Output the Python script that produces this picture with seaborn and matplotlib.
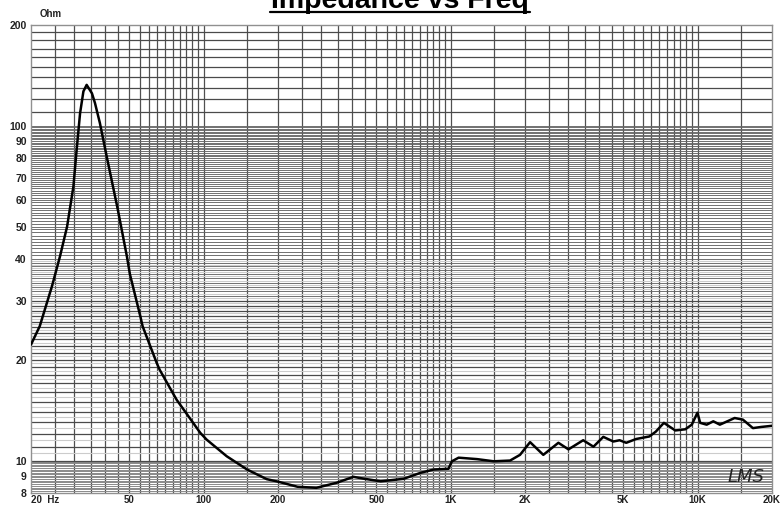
import numpy as np
import matplotlib
matplotlib.use('Agg')
import matplotlib.pyplot as plt
import seaborn as sns
from matplotlib.lines import Line2D

# Impedance curve (Hz, Ohm)
freq = [20, 21.7, 24.3, 26.2, 28.0, 29.7, 30.6, 31.6, 32.6, 33.6, 35.3, 36.3, 38.0,
        40.5, 44.9, 48.9, 50.3, 55.4, 56.6, 64.5, 66.3, 77.7, 96.9, 102.8, 124, 150,
        180, 200, 240, 286, 345, 404, 444, 521, 645, 755, 853, 980, 1012, 1077, 1278,
        1494, 1740, 1909, 2097, 2372, 2730, 2999, 3440, 3786, 4150, 4557, 4830, 5140,
        5640, 6370, 6770, 7300, 8120, 8910, 9470, 9980, 10240, 10880, 11570, 12300,
        14120, 15250, 16740, 18080, 20000]
imp = [22.2, 25.2, 33.1, 40.7, 50, 65.9, 84.6, 109, 126.7, 132.5, 125, 117, 102,
       81, 56.3, 40.7, 36, 27, 25.2, 19.6, 18.7, 15.2, 12.1, 11.55, 10.3, 9.4,
       8.8, 8.65, 8.35, 8.29, 8.58, 8.94, 8.83, 8.67, 8.82, 9.19, 9.40, 9.45, 9.95, 10.2, 10.1,
       9.95, 10.0, 10.4, 11.35, 10.4, 11.3, 10.8, 11.5, 11.0, 11.77, 11.4, 11.5, 11.3,
       11.6, 11.8, 12.2, 12.96, 12.3, 12.4, 12.8, 13.9, 12.96, 12.8, 13.1, 12.8,
       13.4, 13.25, 12.5, 12.6, 12.7]

x_ticks = [20, 50, 100, 200, 500, 1000, 2000, 5000, 10000, 20000]
x_labels = ['20  Hz', '50', '100', '200', '500', '1K', '2K', '5K', '10K', '20K']
y_ticks = [8, 9, 10, 20, 30, 40, 50, 60, 70, 80, 90, 100, 200]
y_labels = ['8', '9', '10', '20', '30', '40', '50', '60', '70', '80', '90', '100', '200']

sns.set_style('white')
plt.rcParams['font.family'] = ['Liberation Sans Narrow', 'Liberation Sans', 'DejaVu Sans']

fig = plt.figure(figsize=(7.84, 5.05), dpi=100)
ax = fig.add_axes([31 / 784, 12 / 505, 741 / 784, 468 / 505])
ax.set_xscale('log')
ax.set_yscale('log')
ax.set_xlim(20, 20000)
ax.set_ylim(8, 200)

# grid: vertical lines
vlines = list(range(25, 100, 5)) + list(range(100, 1000, 50)) + \
    list(range(1000, 10000, 500)) + [10000, 15000]
for v in vlines:
    ax.axvline(v, color='#505050', lw=0.9, zorder=1)

# grid: horizontal lines
for h in np.arange(8.1, 10.0, 0.1):
    ax.axhline(h, color='#8a8a8a', lw=0.7, zorder=1)
for h in range(10, 101):
    if h <= 30:
        ax.axhline(h, color='#4a4a4a', lw=0.9, zorder=1)
    else:
        ax.axhline(h, color='#666666', lw=0.65, zorder=1)
for h in np.arange(10.5, 40, 1.0):
    ax.axhline(h, color='#cccccc', lw=0.8, zorder=1)
for h in range(110, 200, 10):
    ax.axhline(h, color='#4a4a4a', lw=0.9, zorder=1)

sns.lineplot(x=freq, y=imp, ax=ax, color='black', linewidth=1.8,
             sort=False, estimator=None, zorder=3)

ax.xaxis.set_minor_locator(matplotlib.ticker.NullLocator())
ax.yaxis.set_minor_locator(matplotlib.ticker.NullLocator())
ax.set_xticks(x_ticks)
ax.set_xticklabels(x_labels)
ax.set_yticks(y_ticks)
ax.set_yticklabels(y_labels)
ax.tick_params(axis='y', length=0, labelsize=7.5, colors='#222222', pad=3)
ax.tick_params(axis='x', length=0, labelsize=7, colors='#222222', pad=1.5)
for lab in ax.get_xticklabels() + ax.get_yticklabels():
    lab.set_fontweight('bold')
ax.get_xticklabels()[0].set_horizontalalignment('left')
for s in ax.spines.values():
    s.set_color('#909090')
    s.set_linewidth(1)

ax.text(0.011, 1.012, 'Ohm', transform=ax.transAxes, fontsize=7, fontweight='bold',
        color='#222222', va='bottom', ha='left')
ax.text(0.965, 0.035, 'LMS', transform=ax.transAxes, fontsize=13, style='italic',
        color='#222222', ha='center', va='center', family='DejaVu Sans', zorder=4)

# title sits partly above the top edge, as in the reference
fig.text(400 / 784, 1 - 8 / 505, 'Impedance vs Freq', fontsize=20.5, fontweight='bold',
         family='Liberation Sans', ha='center', va='baseline', color='black')
fig.add_artist(Line2D([270 / 784, 530 / 784], [1 - 12 / 505, 1 - 12 / 505],
                      transform=fig.transFigure, color='black', lw=1.6))

fig.savefig('out.png', dpi=100)
